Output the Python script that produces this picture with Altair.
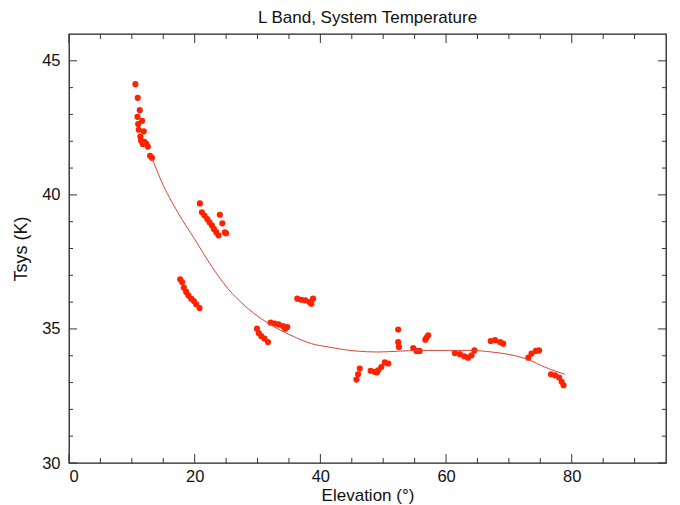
import altair as alt
import pandas as pd

# Observed points
elev = [10.57, 10.94, 11.26, 10.89, 11.63, 11.0, 11.1, 11.9, 11.36, 11.47, 12.0, 11.74, 12.54, 12.3, 12.9, 13.2,
        20.83, 21.15, 21.57, 22.0, 22.36, 22.74, 23.06, 23.43, 23.8, 24.0, 24.4, 25.0, 24.8,
        17.69, 18.0, 18.28, 18.65, 19.0, 19.44, 19.87, 20.24, 20.77,
        36.33, 36.97, 37.6, 38.3, 38.83, 38.57,
        29.9, 30.2, 30.6, 31.1, 31.66,
        32.08, 32.7, 33.35, 34.05, 34.74, 34.4,
        45.74, 46.0, 46.27, 48.0, 48.66, 49.2, 49.7, 50.25, 50.8, 49.0,
        52.38, 52.38, 52.5, 54.77, 55.3, 55.8, 56.7, 57.16, 56.9,
        61.4, 62.2, 62.9, 63.5, 64.06, 64.5,
        67.1, 67.8, 68.6, 69.1,
        73.1, 73.6, 74.3, 74.8,
        76.7, 77.35, 78.0, 78.4, 78.7]
tsys = [44.13, 43.62, 43.16, 42.91, 42.76, 42.64, 42.43, 42.37, 42.17, 42.02, 41.98, 41.9, 41.8, 41.9, 41.46, 41.38,
        39.68, 39.35, 39.23, 39.1, 38.98, 38.86, 38.73, 38.61, 38.49, 39.26, 38.94, 38.57, 38.6,
        36.85, 36.75, 36.54, 36.38, 36.25, 36.13, 36.04, 35.92, 35.78,
        36.13, 36.09, 36.07, 36.0, 36.13, 35.94,
        35.01, 34.85, 34.73, 34.64, 34.51,
        35.24, 35.2, 35.17, 35.11, 35.07, 35.01,
        33.11, 33.31, 33.52, 33.44, 33.4, 33.46, 33.58, 33.75, 33.71, 33.38,
        34.98, 34.51, 34.33, 34.29, 34.18, 34.18, 34.6, 34.76, 34.68,
        34.1, 34.06, 33.98, 33.93, 34.02, 34.2,
        34.55, 34.58, 34.51, 34.45,
        33.93, 34.08, 34.18, 34.2,
        33.31, 33.27, 33.19, 33.03, 32.9]

# Fitted curve
fit_elev = [13.2, 14.66, 17.3, 19.97, 22.6, 25.3, 27.9, 30.6, 33.26, 35.9, 38.6, 41.2, 45.5, 49.2, 52.4, 56.0, 60.35, 64.0, 67.25, 70.0, 72.56, 76.3, 78.9]
fit_tsys = [41.38, 40.53, 39.35, 38.36, 37.37, 36.5, 35.88, 35.38, 35.0, 34.7, 34.45, 34.33, 34.18, 34.14, 34.17, 34.2, 34.2, 34.2, 34.14, 34.05, 33.9, 33.52, 33.31]

x_major = [0, 20, 40, 60, 80]
x_minor = [5, 10, 15, 25, 30, 35, 45, 50, 55, 65, 70, 75, 85, 90]
y_major = [30, 35, 40, 45]
y_minor = [31, 32, 33, 34, 36, 37, 38, 39, 41, 42, 43, 44]

W, H = 597, 429
FONT = "Liberation Sans"

xs = alt.Scale(domain=[0, 95], nice=False, zero=False)
ys = alt.Scale(domain=[30, 46], nice=False, zero=False)

x_axis = alt.Axis(values=x_major, ticks=False, domain=False, grid=False,
                  labelFontSize=16.5, labelFont=FONT, labelColor="#111", labelPadding=5,
                  titleFontSize=17, titleFont=FONT, titleFontWeight="normal", titleColor="#111",
                  titlePadding=3)
y_axis = alt.Axis(values=y_major, ticks=False, domain=False, grid=False,
                  labelFontSize=16.5, labelFont=FONT, labelColor="#111", labelPadding=9,
                  titleFontSize=18, titleFont=FONT, titleFontWeight="normal", titleColor="#111",
                  titlePadding=11)
X_TITLE = "Elevation (°)"
Y_TITLE = "Tsys (K)"

pts = pd.DataFrame({"x": elev, "y": tsys})
fit = pd.DataFrame({"x": fit_elev, "y": fit_tsys})

base_points = alt.Chart(pts).mark_circle(size=38, color="#ff2200", opacity=1).encode(
    x=alt.X("x:Q", scale=xs, title=X_TITLE, axis=x_axis),
    y=alt.Y("y:Q", scale=ys, title=Y_TITLE, axis=y_axis),
)

line = alt.Chart(fit).mark_line(color="#d9443a", strokeWidth=1, interpolate="monotone").encode(
    x=alt.X("x:Q", scale=xs, title=X_TITLE, axis=x_axis),
    y=alt.Y("y:Q", scale=ys, title=Y_TITLE, axis=y_axis),
)


def xticks(vals, length):
    d = pd.DataFrame({"x": vals})
    bottom = alt.Chart(d).mark_rule(color="#333", strokeWidth=1).encode(
        x=alt.X("x:Q", scale=xs, title=X_TITLE, axis=x_axis), y=alt.value(H), y2=alt.value(H - length))
    top = alt.Chart(d).mark_rule(color="#333", strokeWidth=1).encode(
        x=alt.X("x:Q", scale=xs, title=X_TITLE, axis=x_axis), y=alt.value(0), y2=alt.value(length))
    return [bottom, top]


def yticks(vals, length):
    d = pd.DataFrame({"y": vals})
    left = alt.Chart(d).mark_rule(color="#333", strokeWidth=1).encode(
        y=alt.Y("y:Q", scale=ys, title=Y_TITLE, axis=y_axis), x=alt.value(0), x2=alt.value(length))
    right = alt.Chart(d).mark_rule(color="#333", strokeWidth=1).encode(
        y=alt.Y("y:Q", scale=ys, title=Y_TITLE, axis=y_axis), x=alt.value(W), x2=alt.value(W - length))
    return [left, right]


layers = [base_points, line] + xticks(x_major, 9) + xticks(x_minor, 5) + yticks(y_major, 8) + yticks(y_minor, 4)

chart = alt.layer(*layers).properties(
    width=W, height=H,
    background="white",
    title=alt.TitleParams("L Band, System Temperature", fontSize=17, font=FONT,
                          fontWeight="normal", color="#111", anchor="middle", offset=7),
    autosize=alt.AutoSizeParams(type="none"),
    padding={"left": 61, "top": 26, "right": 4, "bottom": 42},
).configure_view(stroke="#222", strokeWidth=1.3)

chart.save("out.html", embed_options={"renderer": "svg", "actions": False})
